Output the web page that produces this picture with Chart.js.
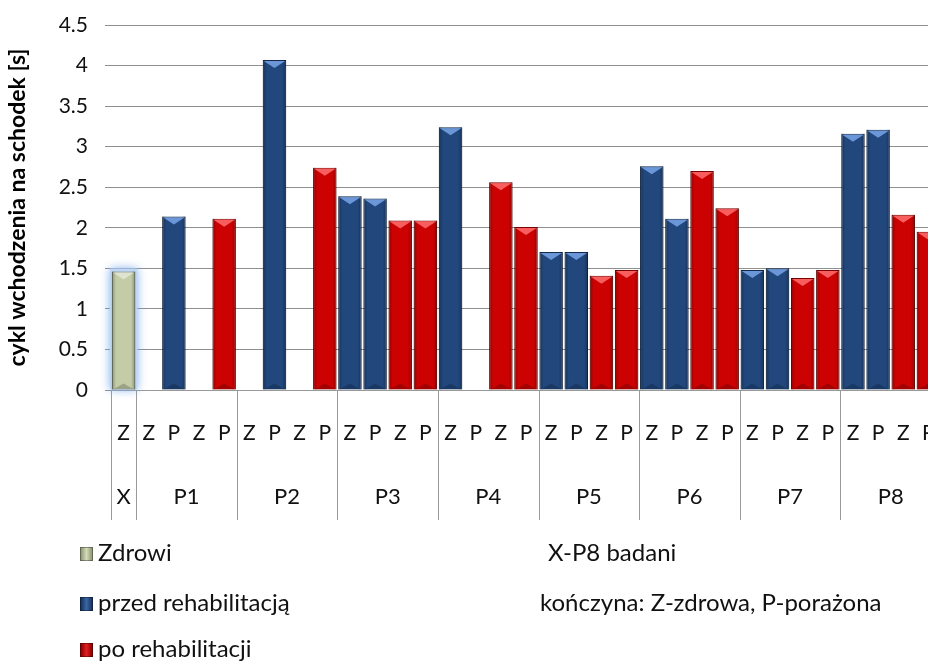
<!DOCTYPE html>
<html>
<head>
<meta charset="utf-8">
<script src="https://cdn.jsdelivr.net/npm/chart.js@4"></script>
<style>
  html, body { margin: 0; padding: 0; background: #fff; overflow: hidden; width: 928px; height: 661px; }
  #wrap { position: relative; width: 966px; height: 661px; }
  .leg { position: absolute; font-family: Lato, "Liberation Sans", sans-serif; font-size: 24px; color: #111; white-space: nowrap; line-height: 24px; }
  .mk { display: inline-block; width: 13px; height: 14px; margin-right: 5px; vertical-align: 0px; border: 1px solid rgba(0,0,0,0.35); box-sizing: border-box; }
</style>
</head>
<body>
<div id="wrap">
  <canvas id="myChart" width="966" height="661"></canvas>
  <div class="leg" style="left:80px; top:540px;"><span class="mk" style="background:linear-gradient(90deg,#8f9877,#d3dbb8 50%,#8f9877);"></span>Zdrowi</div>
  <div class="leg" style="left:80px; top:590px;"><span class="mk" style="background:linear-gradient(90deg,#17345f,#3a66a3 50%,#17345f);"></span>przed rehabilitacją</div>
  <div class="leg" style="left:80px; top:636px;"><span class="mk" style="background:linear-gradient(90deg,#8e0000,#e02020 50%,#8e0000);"></span>po rehabilitacji</div>
  <div class="leg" style="left:548px; top:540px;">X-P8 badani</div>
  <div class="leg" style="left:540px; top:590px;">kończyna: Z-zdrowa, P-porażona</div>
</div>
<script>
// Data

const patients = ["P1", "P2", "P3", "P4", "P5", "P6", "P7", "P8"];
const limbs = ["Z", "P"];
const zdrowi = [1.46];
const przedZ = [null, null, 2.39, 3.24, 1.7, 2.76, 1.48, 3.16];
const przedP = [2.14, 4.07, 2.36, null, 1.7, 2.11, 1.5, 3.21];
const poZ = [null, null, 2.09, 2.56, 1.41, 2.7, 1.38, 2.16];
const poP = [2.11, 2.74, 2.09, 2.01, 1.48, 2.24, 1.48, 1.95];

// build slot arrays: X slot, then Z P Z P for each patient
const labels = ["Z"];
const groups = [{ name: "X", from: 0, to: 0 }];
const zdrowiData = [zdrowi[0]];
const przedData = [null];
const poData = [null];

for (let i = 0; i < patients.length; i++) {
  const start = labels.length;
  labels.push(limbs[0], limbs[1], limbs[0], limbs[1]);
  groups.push({ name: patients[i], from: start, to: start + 3 });
  zdrowiData.push(null, null, null, null);
  przedData.push(przedZ[i], przedP[i], null, null);
  poData.push(null, null, poZ[i], poP[i]);
}

const FONT = "Lato, 'Liberation Sans', sans-serif";

// bevel shading over each bar
const bevel = {
  id: "bevel",
  beforeDatasetsDraw(chart) {
    const ctx = chart.ctx;
    const meta = chart.getDatasetMeta(0);
    meta.data.forEach((el, i) => {
      if (zdrowiData[i] == null) return;
      const p = el.getProps(["x", "y", "base", "width"], true);
      ctx.save();
      ctx.shadowColor = "rgba(120,170,235,0.9)";
      ctx.shadowBlur = 10;
      ctx.fillStyle = "rgba(190,215,245,1)";
      ctx.fillRect(p.x - p.width / 2 - 2, p.y - 3, p.width + 4, p.base - p.y + 3);
      ctx.restore();
    });
  },
  afterDatasetsDraw(chart) {
    const ctx = chart.ctx;
    const tops = ["rgba(255,255,255,0.45)", "rgba(120,165,230,0.85)", "rgba(255,110,110,0.85)"];
    chart.data.datasets.forEach((ds, d) => {
      chart.getDatasetMeta(d).data.forEach((el, i) => {
        if (ds.data[i] == null) return;
        const p = el.getProps(["x", "y", "base", "width"], true);
        const l = p.x - p.width / 2, r = p.x + p.width / 2;
        ctx.save();
        const g = ctx.createLinearGradient(l, 0, r, 0);
        g.addColorStop(0, "rgba(0,0,0,0.28)");
        g.addColorStop(0.18, "rgba(0,0,0,0)");
        g.addColorStop(0.82, "rgba(0,0,0,0)");
        g.addColorStop(1, "rgba(0,0,0,0.28)");
        ctx.fillStyle = g;
        ctx.fillRect(l, p.y, p.width, p.base - p.y);
        ctx.fillStyle = tops[d];
        ctx.beginPath();
        ctx.moveTo(l + 1, p.y + 1);
        ctx.lineTo(r - 1, p.y + 1);
        ctx.lineTo(p.x, p.y + 8);
        ctx.closePath();
        ctx.fill();
        ctx.fillStyle = "rgba(0,0,0,0.2)";
        ctx.beginPath();
        ctx.moveTo(l + 1, p.base);
        ctx.lineTo(r - 1, p.base);
        ctx.lineTo(p.x, p.base - 6);
        ctx.closePath();
        ctx.fill();
        ctx.restore();
      });
    });
  },
};

// group separators and group names under the Z/P row
const groupAxis = {
  id: "groupAxis",
  afterDraw(chart) {
    const ctx = chart.ctx;
    const x = chart.scales.x;
    const top = chart.chartArea.bottom;
    const bottom = x.bottom;
    const half = (x.getPixelForValue(1) - x.getPixelForValue(0)) / 2;
    ctx.save();
    ctx.strokeStyle = "#9a9a9a";
    ctx.lineWidth = 1;
    ctx.fillStyle = "#111";
    ctx.font = "22px " + FONT;
    ctx.textAlign = "center";
    ctx.textBaseline = "middle";
    groups.forEach((g) => {
      const a = x.getPixelForValue(g.from) - half;
      const b = x.getPixelForValue(g.to) + half;
      ctx.beginPath();
      ctx.moveTo(Math.round(a) + 0.5, top);
      ctx.lineTo(Math.round(a) + 0.5, bottom);
      ctx.stroke();
      ctx.fillText(g.name, (a + b) / 2, top + 107);
    });
    ctx.restore();
  },
};

new Chart(document.getElementById("myChart"), {
  type: "bar",
  data: {
    labels: labels,
    datasets: [
      {
        label: "Zdrowi",
        data: zdrowiData,
        backgroundColor: "#c3cca6",
        borderColor: "#6f7760",
      },
      {
        label: "przed rehabilitacją",
        data: przedData,
        backgroundColor: "#21477d",
        borderColor: "#132a4c",
      },
      {
        label: "po rehabilitacji",
        data: poData,
        backgroundColor: "#cc0202",
        borderColor: "#7a0000",
      },
    ],
  },
  options: {
    responsive: false,
    animation: false,
    layout: { padding: { top: 25, right: 25, bottom: 141, left: 4 } },
    datasets: {
      bar: {
        grouped: false,
        barPercentage: 0.93,
        categoryPercentage: 1.0,
        borderWidth: 1,
      },
    },
    plugins: { legend: { display: false }, tooltip: { enabled: false } },
    scales: {
      x: {
        grid: { display: false },
        border: { color: "#9a9a9a" },
        ticks: {
          autoSkip: false,
          maxRotation: 0,
          padding: 23,
          color: "#111",
          font: { family: FONT, size: 21 },
        },
        afterFit(scale) {
          scale.height = 130;
        },
      },
      y: {
        min: 0,
        max: 4.5,
        border: { display: false },
        grid: { color: "#8f8f8f", tickLength: 6 },
        ticks: {
          stepSize: 0.5,
          padding: 17,
          color: "#111",
          font: { family: FONT, size: 21 },
          callback: (v) => String(v),
        },
        title: {
          display: true,
          text: "cykl wchodzenia na schodek [s]",
          color: "#000",
          font: { family: FONT, size: 23, weight: "bold" },
          padding: { top: 0, bottom: 0 },
        },
        afterFit(scale) {
          scale.width = 107;
          scale.paddingTop = 0;
          scale.paddingBottom = 0;
        },
      },
    },
  },
  plugins: [bevel, groupAxis],
});
</script>
</body>
</html>
